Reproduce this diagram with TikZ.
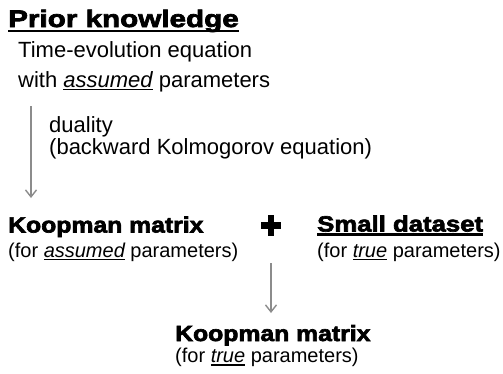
\documentclass[tikz,border=0pt]{standalone}
\usepackage{fontspec}
\setmainfont{Liberation Sans}
\newfontfamily\heavyfont{Liberation Sans}[FakeBold=3,FakeStretch=1.17,BoldFont={* Bold}]
\newfontfamily\heavywide{Liberation Sans}[FakeBold=3,FakeStretch=1.235,BoldFont={* Bold}]
\newfontfamily\heavynarrow{Liberation Sans}[FakeBold=3,FakeStretch=1.125,BoldFont={* Bold}]
\usetikzlibrary{arrows.meta}
\definecolor{arrowgray}{HTML}{8C8C8C}
\newcommand{\ulx}[3]{\setbox0\hbox{#3}\rlap{\rule[-#1]{\wd0}{#2}}\box0}
\newcommand{\myul}[1]{\ulx{3pt}{1.2pt}{#1}}
\begin{document}
\begin{tikzpicture}[x=1pt,y=-1pt,
  txt/.style={anchor=base west,inner sep=0pt,font=\fontsize{22}{26}\selectfont},
  sub/.style={anchor=base west,inner sep=0pt,font=\fontsize{20}{24}\selectfont},
  heavy/.style={anchor=base west,inner sep=0pt,font=\heavyfont\bfseries\fontsize{22}{26}\selectfont},
  flow/.style={draw=arrowgray,line width=1.6pt,-{Straight Barb[length=7pt,width=11pt,line width=1.4pt]}}]
\useasboundingbox (0,0) rectangle (503,373);
\node[heavy,font=\heavywide\bfseries\fontsize{24}{28}\selectfont] (prior) at (8,27) {\ulx{5pt}{2.5pt}{Prior knowledge}};
\node[txt] (time1) at (18,57) {Time-evolution equation};
\node[txt] (time2) at (18,87) {with \textit{\myul{assumed}} parameters};
\coordinate (a1s) at (31,106);
\coordinate (a1e) at (31,198);
\draw[flow] (a1s) -- (a1e);
\node[txt] (dual1) at (49,132) {duality};
\node[txt] (dual2) at (49,154) {(backward Kolmogorov equation)};
\node[heavy,font=\heavynarrow\bfseries\fontsize{22}{26}\selectfont] (koop1) at (8,232.5) {Koopman matrix};
\node[sub] (koop1s) at (8,257) {(for \textit{\myul{assumed}} parameters)};
\node[inner sep=0pt,minimum width=20.5pt,minimum height=20.5pt] (plus) at (271,225.5) {};
\fill ([yshift=3.4pt]plus.west) rectangle ([yshift=-3.4pt]plus.east);
\fill ([xshift=-3.4pt]plus.north) rectangle ([xshift=3.4pt]plus.south);
\node[heavy] (small) at (317,231.5) {\ulx{4pt}{2.4pt}{Small dataset}};
\node[sub] (smalls) at (317,257) {(for \textit{\myul{true}} parameters)};
\coordinate (a2s) at (271,263);
\coordinate (a2e) at (271,313);
\draw[flow] (a2s) -- (a2e);
\node[heavy,font=\heavynarrow\bfseries\fontsize{22}{26}\selectfont] (koop2) at (175,341) {Koopman matrix};
\node[sub] (koop2s) at (175,362.5) {(for \textit{\myul{true}} parameters)};
\end{tikzpicture}
\end{document}
